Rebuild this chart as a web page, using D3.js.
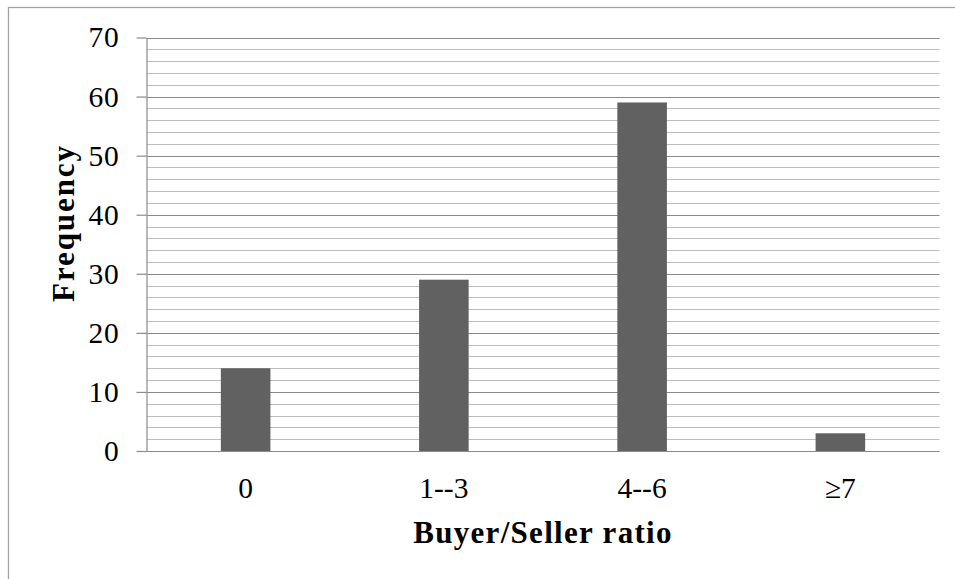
<!DOCTYPE html>
<html>
<head>
<meta charset="utf-8">
<script src="https://cdn.jsdelivr.net/npm/d3@7"></script>
<style>
  html, body { margin: 0; padding: 0; background: #fff; }
  svg { display: block; }
  text { font-family: "Liberation Serif", "Times New Roman", serif; fill: #000; }
</style>
</head>
<body>
<svg id="chart" width="955" height="579"></svg>
<script>
// Buyer/seller ratio distribution
const categories = ["0", "1--3", "4--6", "\u22657"];
const frequencies = [14, 29, 59, 3];
const yMajorTicks = [0, 10, 20, 30, 40, 50, 60, 70];
const yMinorTicks = d3.range(0, 71, 2);

const W = 955, H = 579;
const plot = { left: 146.5, right: 939.5, top: 37.5, bottom: 451 };

const svg = d3.select("#chart");

// Outer chart frame (runs off the right and bottom edges)
svg.append("rect")
  .attr("x", 8.5).attr("y", 7.5)
  .attr("width", W + 20).attr("height", H + 20)
  .attr("fill", "none").attr("stroke", "#a3a3a3").attr("stroke-width", 1.3);

const x = d3.scaleBand()
  .domain(categories)
  .range([plot.left, plot.right])
  .paddingInner(0.75)
  .paddingOuter(0.375);

const y = d3.scaleLinear()
  .domain([0, 70])
  .range([plot.bottom, plot.top]);

// Minor gridlines
svg.append("g")
  .selectAll("line")
  .data(yMinorTicks.filter(v => v % 10 !== 0))
  .join("line")
  .attr("x1", plot.left).attr("x2", plot.right)
  .attr("y1", d => Math.round(y(d)) + 0.5).attr("y2", d => Math.round(y(d)) + 0.5)
  .attr("stroke", "#bdbdbd").attr("stroke-width", 1.2);

// Major gridlines
svg.append("g")
  .selectAll("line")
  .data(yMajorTicks.filter(v => v !== 0))
  .join("line")
  .attr("x1", plot.left).attr("x2", plot.right)
  .attr("y1", d => Math.round(y(d)) + 0.5).attr("y2", d => Math.round(y(d)) + 0.5)
  .attr("stroke", "#8a8a8a").attr("stroke-width", 1.2);

// Bars
svg.append("g")
  .selectAll("rect")
  .data(categories.map((c, i) => ({ c, v: frequencies[i] })))
  .join("rect")
  .attr("x", d => x(d.c))
  .attr("width", x.bandwidth())
  .attr("y", d => y(d.v))
  .attr("height", d => y(0) - y(d.v))
  .attr("fill", "#616161");

// Y axis
const yAxis = d3.axisLeft(y)
  .tickValues(yMajorTicks)
  .tickSize(10)
  .tickPadding(17)
  .tickSizeOuter(0);

const gy = svg.append("g")
  .attr("transform", `translate(${plot.left},0)`)
  .call(yAxis);
gy.select(".domain").attr("stroke", "#8a8a8a").attr("stroke-width", 1.2);
gy.selectAll(".tick line").attr("stroke", "#8a8a8a").attr("stroke-width", 1.2);
gy.selectAll(".tick text")
  .attr("font-family", "Liberation Serif, serif")
  .attr("font-size", 29.5)
  .attr("letter-spacing", 0.8)
  .attr("fill", "#000");

// X axis
const xAxis = d3.axisBottom(x)
  .tickSize(0)
  .tickPadding(46)
  .tickSizeOuter(0);

const gx = svg.append("g")
  .attr("transform", `translate(0,${plot.bottom})`)
  .call(xAxis);
gx.select(".domain").remove();
gx.append("line")
  .attr("x1", plot.left).attr("x2", plot.right)
  .attr("y1", 0.5).attr("y2", 0.5)
  .attr("stroke", "#8a8a8a").attr("stroke-width", 1.2);
gx.selectAll(".tick text")
  .attr("font-family", "Liberation Serif, serif")
  .attr("font-size", 29.5)
  .attr("fill", "#000")
  .attr("dy", null)
  .attr("y", 46.5);

// Axis titles
svg.append("text")
  .attr("x", (plot.left + plot.right) / 2)
  .attr("y", 542.5)
  .attr("text-anchor", "middle")
  .attr("font-size", 31)
  .attr("font-weight", "bold")
  .attr("letter-spacing", 1.3)
  .text("Buyer/Seller ratio");

svg.append("text")
  .attr("transform", "translate(74,223) rotate(-90)")
  .attr("text-anchor", "middle")
  .attr("font-size", 31)
  .attr("font-weight", "bold")
  .attr("letter-spacing", 1.9)
  .text("Frequency");
</script>
</body>
</html>
